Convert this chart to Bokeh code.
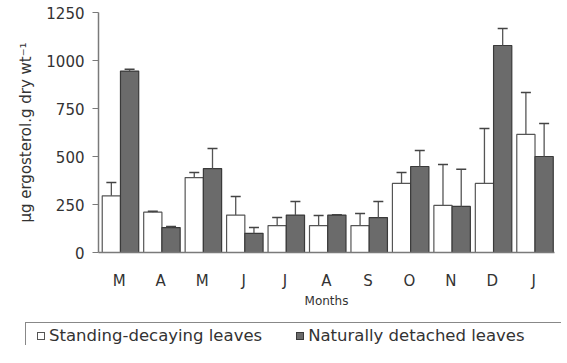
from bokeh.plotting import figure
from bokeh.layouts import column
from bokeh.models import (ColumnDataSource, Range1d, FixedTicker, Whisker, TeeHead, Div)
from bokeh.transform import dodge
from bokeh.embed import file_html
from bokeh.resources import INLINE

months = ["M", "A", "M", "J", "J", "A", "S", "O", "N", "D", "J"]
standing = [295, 210, 390, 195, 140, 140, 140, 360, 245, 360, 615]
standing_err = [70, 5, 27, 97, 42, 53, 63, 57, 213, 286, 218]
detached = [945, 130, 437, 100, 195, 195, 182, 448, 240, 1078, 500]
detached_err = [10, 5, 105, 30, 70, 2, 83, 83, 193, 89, 172]
y_ticks = [0, 250, 500, 750, 1000, 1250]
series_names = ["Standing-decaying leaves", "Naturally detached leaves"]

idx = list(range(len(months)))
src = ColumnDataSource(dict(
    x=idx,
    s=standing,
    s_up=[v + e for v, e in zip(standing, standing_err)],
    d=detached,
    d_up=[v + e for v, e in zip(detached, detached_err)],
))

FONT = "DejaVu Sans"
TXT = "#333333"
AX = "#7a7a7a"
WHITE_FILL, WHITE_LINE = "white", "#555555"
DARK_FILL, DARK_LINE = "#6b6b6b", "#3a3a3a"

p = figure(width=556, height=322, output_backend="svg", toolbar_location=None,
           x_range=Range1d(0, len(months)), y_range=Range1d(0, 1250),
           min_border_left=98, min_border_right=2, min_border_top=12,
           min_border_bottom=70)
p.outline_line_color = None
p.xgrid.visible = False
p.ygrid.visible = False

W = 0.44
p.vbar(x=dodge("x", 0.31), top="s", width=W, source=src,
       fill_color=WHITE_FILL, line_color=WHITE_LINE, line_width=1.2)
p.vbar(x=dodge("x", 0.75), top="d", width=W, source=src,
       fill_color=DARK_FILL, line_color=DARK_LINE, line_width=1.2)

for col, up, off in (("s", "s_up", 0.31), ("d", "d_up", 0.75)):
    w = Whisker(source=src, base=dodge("x", off), lower=col, upper=up,
                line_color="#555555", line_width=1.3, level="annotation",
                upper_head=TeeHead(size=10, line_color="#444444", line_width=1.5),
                lower_head=None)
    p.add_layout(w)

# x axis: labels at category centres, ticks at category boundaries
p.xaxis.ticker = FixedTicker(ticks=[i + 0.5 for i in idx],
                             minor_ticks=list(range(len(months) + 1)))
p.xaxis.major_label_overrides = {i + 0.5: m for i, m in enumerate(months)}
p.xaxis.major_tick_out = 0
p.xaxis.major_tick_in = 0
p.xaxis.minor_tick_out = 5
p.xaxis.minor_tick_in = 0
p.xaxis.major_label_standoff = 14
p.xaxis.axis_label = "Months"
p.xaxis.axis_label_standoff = 1
p.xaxis.axis_label_text_font = FONT
p.xaxis.axis_label_text_font_size = "12px"
p.xaxis.axis_label_text_font_style = "normal"

p.yaxis.ticker = FixedTicker(ticks=y_ticks)
p.yaxis.minor_tick_line_color = None
p.yaxis.major_tick_out = 6
p.yaxis.major_tick_in = 0
p.yaxis.major_label_standoff = 8
p.yaxis.axis_label = "µg ergosterol.g dry wt⁻¹"
p.yaxis.axis_label_standoff = 8
p.yaxis.axis_label_text_font = FONT
p.yaxis.axis_label_text_font_size = "15px"
p.yaxis.axis_label_text_font_style = "normal"

for ax in (p.xaxis, p.yaxis):
    ax.axis_line_color = AX
    ax.axis_line_width = 1.5
    ax.major_tick_line_color = AX
    ax.minor_tick_line_color = AX if ax is p.xaxis else None
    ax.major_label_text_font = FONT
    ax.major_label_text_font_size = "15px"
    ax.major_label_text_color = TXT
    ax.axis_label_text_color = TXT

# legend box below the chart
def swatch(fill, line, ml):
    return (f'<span style="display:inline-block;width:8px;height:8px;'
            f'border:1px solid {line};background:{fill};margin-left:{ml}px;'
            f'vertical-align:middle;"></span>')

def lab(t):
    return (f'<span style="margin-left:4px;vertical-align:middle;">{t}</span>')

legend_html = (
    f'<div style="margin:2px 0 0 20px;width:545px;height:40px;'
    f'border:1px solid #888888;box-sizing:border-box;font-family:\'{FONT}\';'
    f'font-size:16.5px;color:{TXT};white-space:nowrap;padding:2px 0 0 0;'
    f'line-height:19px;">'
    + swatch(WHITE_FILL, WHITE_LINE, 11) + lab(series_names[0])
    + swatch(DARK_FILL, DARK_LINE, 34) + lab(series_names[1])
    + '</div>'
)
legend_div = Div(text=legend_html, width=556, height=25,
                 styles={"overflow": "hidden", "margin-top": "-2px"})

layout = column(p, legend_div, spacing=0)
open("out.html", "w").write(file_html(layout, INLINE))
